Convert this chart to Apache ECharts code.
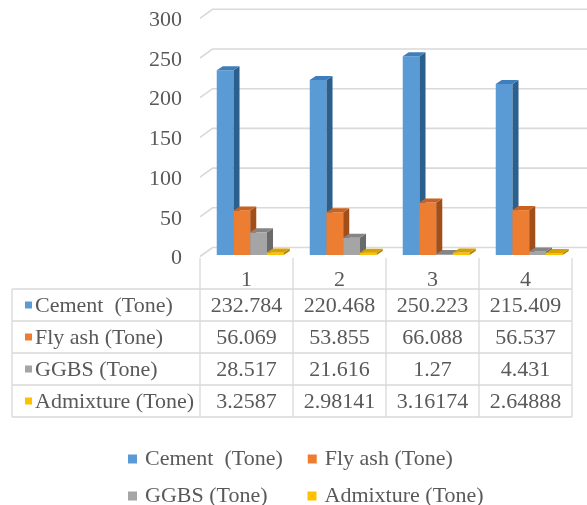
<!DOCTYPE html>
<html>
<head>
<meta charset="utf-8">
<script src="https://cdn.jsdelivr.net/npm/echarts@6/dist/echarts.min.js"></script>
<style>
  html, body { margin: 0; padding: 0; background: #ffffff; }
  #chart { width: 587px; height: 505px; }
</style>
</head>
<body>
<div id="chart"></div>
<script>
// Material quantities per mix (tonnes)
const categories = ['1', '2', '3', '4'];
const seriesNames = ['Cement  (Tone)', 'Fly ash (Tone)', 'GGBS (Tone)', 'Admixture (Tone)'];
const cement = [232.784, 220.468, 250.223, 215.409];
const flyAsh = [56.069, 53.855, 66.088, 56.537];
const ggbs = [28.517, 21.616, 1.27, 4.431];
const admixture = [3.2587, 2.98141, 3.16174, 2.64888];
const yTicks = [0, 50, 100, 150, 200, 250, 300];

const seriesValues = [cement, flyAsh, ggbs, admixture];

// Face shades for the pseudo-3D columns
const frontColors = ['#5B9BD5', '#ED7D31', '#A5A5A5', '#FFC000'];
const sideColors = ['#2B5F8C', '#A24E1A', '#6A6A6A', '#B38600'];
const topColors = ['#3F7EBD', '#C9611F', '#858585', '#D6A200'];

const FONT = 'Liberation Serif';
const FS = 22;
const TEXT = '#595959';
const LINE = '#D9D9D9';

// Table layout (rows under the plot)
const tableLeft = 12;
const rowLines = [289, 321, 353, 385, 417];
const tableTop = 258;

function columnRenderer(s) {
  return function (params, api) {
    const ci = api.value(0);
    const v = api.value(1);
    const base = api.coord([ci, 0]);
    const top = api.coord([ci, v]);
    const bw = api.size([1, 0])[0];
    const w = bw * 0.18;
    const x = base[0] - bw * 0.32 + s * w;
    const dx = bw * 0.065;
    const dy = -4;
    const yb = base[1];
    const yt = top[1];
    return {
      type: 'group',
      children: [
        { type: 'polygon', shape: { points: [[x, yb], [x + w, yb], [x + w, yt], [x, yt]] },
          style: { fill: frontColors[s] } },
        { type: 'polygon', shape: { points: [[x + w, yb], [x + w + dx, yb + dy], [x + w + dx, yt + dy], [x + w, yt]] },
          style: { fill: sideColors[s] } },
        { type: 'polygon', shape: { points: [[x, yt], [x + w, yt], [x + w + dx, yt + dy], [x + dx, yt + dy]] },
          style: { fill: topColors[s] } }
      ]
    };
  };
}

// Back wall gridlines with the slanted side-wall segment, plus the value labels
function wallRenderer(params, api) {
  const v = api.value(1);
  const p = api.coord([0, v]);
  const cs = params.coordSys;
  const y = p[1];
  return {
    type: 'group',
    children: [
      {
        type: 'polyline',
        shape: { points: [[cs.x, y + 1.5], [cs.x + 12.5, y - 7.5], [cs.x + cs.width + 15, y - 7.5]] },
        style: { stroke: LINE, lineWidth: 1.6, fill: null }
      },
      {
        type: 'text',
        style: { x: cs.x - 18, y: y + 3.5, text: String(v), align: 'right', verticalAlign: 'middle',
          fontFamily: FONT, fontSize: FS, fill: TEXT }
      }
    ]
  };
}

// Data table: one column of cells per category
function tableRenderer(params, api) {
  const ci = api.value(0);
  const c = api.coord([ci, 0]);
  const bw = api.size([1, 0])[0];
  const left = c[0] - bw / 2;
  const children = [
    { type: 'line', shape: { x1: left, y1: tableTop, x2: left, y2: rowLines[rowLines.length - 1] },
      style: { stroke: LINE, lineWidth: 1.3 } }
  ];
  if (ci === categories.length - 1) {
    children.push({ type: 'line', shape: { x1: left + bw, y1: tableTop, x2: left + bw, y2: rowLines[rowLines.length - 1] },
      style: { stroke: LINE, lineWidth: 1.3 } });
  }
  seriesValues.forEach(function (vals, r) {
    children.push({
      type: 'text',
      style: {
        x: c[0], y: (rowLines[r] + rowLines[r + 1]) / 2 + 1,
        text: String(vals[ci]),
        align: 'center', verticalAlign: 'middle',
        fontFamily: FONT, fontSize: FS, fill: TEXT
      }
    });
  });
  return { type: 'group', children: children };
}

const series = [
  {
    type: 'custom', name: 'wall', z: 1, silent: true,
    renderItem: wallRenderer,
    data: yTicks.map(function (v) { return [0, v]; }),
    clip: false
  },
  {
    type: 'custom', name: 'table', z: 1, silent: true,
    renderItem: tableRenderer,
    data: categories.map(function (c, i) { return [i, 0]; }),
    clip: false
  }
];
seriesNames.forEach(function (name, s) {
  series.push({
    type: 'custom', name: name, z: 2,
    itemStyle: { color: frontColors[s] },
    renderItem: columnRenderer(s),
    data: seriesValues[s].map(function (v, i) { return [i, v]; }),
    clip: false
  });
});

// Row headers and horizontal rules of the table
const graphics = [
  { type: 'line', shape: { x1: tableLeft, y1: rowLines[0], x2: tableLeft, y2: rowLines[rowLines.length - 1] },
    style: { stroke: LINE, lineWidth: 1.3 } }
];
rowLines.forEach(function (y) {
  graphics.push({ type: 'line', shape: { x1: tableLeft, y1: y, x2: 572, y2: y },
    style: { stroke: LINE, lineWidth: 1.3 } });
});
seriesNames.forEach(function (name, r) {
  const yc = (rowLines[r] + rowLines[r + 1]) / 2;
  graphics.push({ type: 'rect', shape: { x: 25, y: yc - 3.5, width: 7, height: 7 },
    style: { fill: frontColors[r] } });
  graphics.push({ type: 'text', style: { x: 35, y: yc + 1, text: name, align: 'left', verticalAlign: 'middle',
    fontFamily: FONT, fontSize: FS, fill: TEXT } });
});

const legendText = { fontFamily: FONT, fontSize: FS, color: TEXT, padding: [0, 0, 0, 3] };

const option = {
  animation: false,
  backgroundColor: '#ffffff',
  grid: { left: 200, right: 15, top: 16.8, bottom: 250 },
  xAxis: {
    type: 'category',
    data: categories,
    axisLine: { show: false },
    axisTick: { show: false },
    axisLabel: { margin: 14, fontFamily: FONT, fontSize: FS, color: TEXT },
    splitLine: { show: false }
  },
  yAxis: {
    type: 'value',
    min: 0, max: 300, interval: 50,
    axisLine: { show: false },
    axisTick: { show: false },
    axisLabel: { show: false },
    splitLine: { show: false }
  },
  legend: [
    {
      data: [seriesNames[0], seriesNames[1]],
      left: 123, top: 443,
      icon: 'rect', itemWidth: 9, itemHeight: 9, itemGap: 25,
      textStyle: legendText, selectedMode: false
    },
    {
      data: [seriesNames[2], seriesNames[3]],
      left: 123, top: 480,
      icon: 'rect', itemWidth: 9, itemHeight: 9, itemGap: 40,
      textStyle: legendText, selectedMode: false
    }
  ],
  graphic: graphics,
  series: series
};

const chart = echarts.init(document.getElementById('chart'), null, { renderer: 'canvas' });
chart.setOption(option);
</script>
</body>
</html>
